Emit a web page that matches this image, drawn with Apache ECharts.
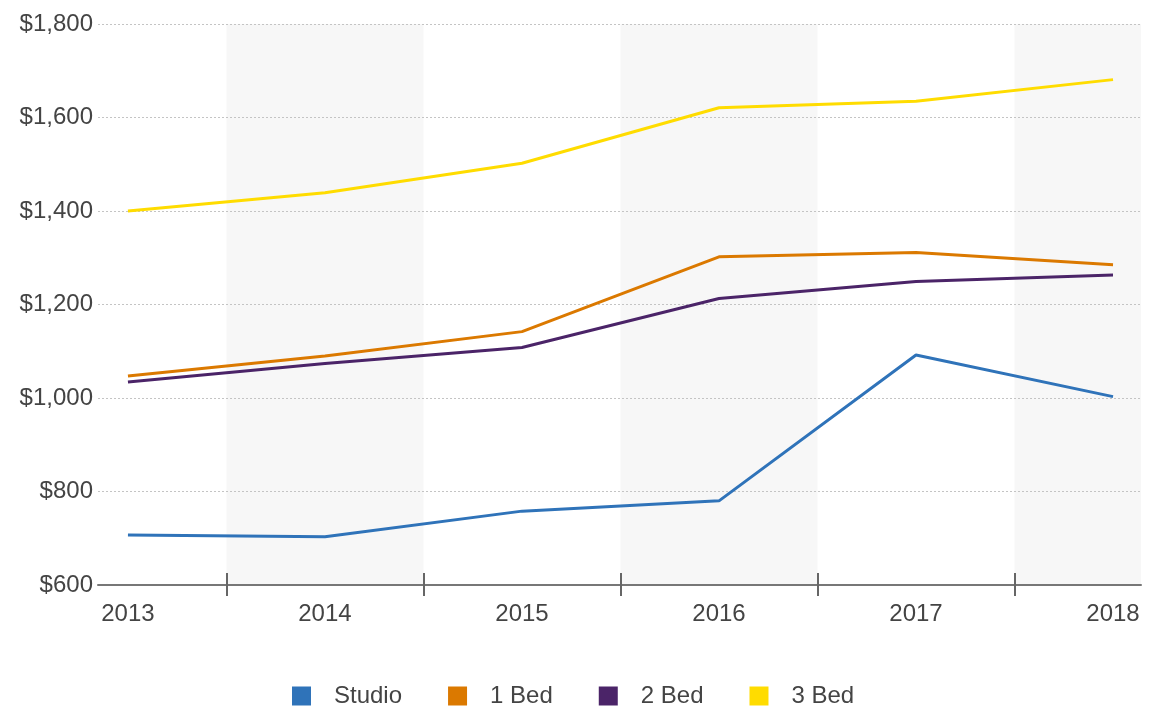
<!DOCTYPE html>
<html>
<head>
<meta charset="utf-8">
<title>Rent by unit size</title>
<style>
  html, body { margin: 0; padding: 0; background: #fff; }
  .line { width: 1167px; height: 711px; }
</style>
<script src="https://cdn.jsdelivr.net/npm/echarts@6/dist/echarts.min.js"></script>
</head>
<body>
<div class="line"></div>
<script>
// 数据
var years = [2013, 2014, 2015, 2016, 2017, 2018];
var studio = [707, 703, 758, 780, 1092, 1003];
var oneBed = [1047, 1090, 1142, 1302, 1311, 1285];
var twoBed = [1034, 1074, 1108, 1213, 1249, 1263];
var threeBed = [1400, 1439, 1502, 1621, 1635, 1681];
var names = ['Studio', '1 Bed', '2 Bed', '3 Bed'];
var yTicks = [600, 800, 1000, 1200, 1400, 1600, 1800];

(function () {
    var font = 'Arial, "Liberation Sans", sans-serif';
    // x轴两端留白 (左右各约0.15年)
    var xMin = 2012.848;
    var xMax = 2018.142;
    // 年份之间的刻度
    var mids = [];
    for (var i = 0; i < years.length - 1; i++) {
        mids.push(years[i] + 0.5);
    }
    var bands = [xMin].concat(mids, [xMax]);

    function pairs(arr) {
        return arr.map(function (v, i) { return [years[i], v]; });
    }

    function line(name, arr, color) {
        return {
            name: name,
            type: 'line',
            data: pairs(arr),
            showSymbol: false,
            symbol: 'none',
            lineStyle: { width: 3, color: color },
            itemStyle: { color: color },
            emphasis: { disabled: true }
        };
    }

    var option = {
        animation: false,
        textStyle: { fontFamily: font },
        grid: {
            left: 98,
            right: 26,
            top: 24,
            bottom: 126,
            containLabel: false,
            outerBoundsMode: 'none'
        },
        legend: {
            data: names,
            left: 287,
            top: 679,
            icon: 'rect',
            itemWidth: 19,
            itemHeight: 19,
            itemGap: 46,
            textStyle: {
                fontSize: 24,
                color: '#444',
                fontFamily: font,
                padding: [0, 0, 0, 18]
            }
        },
        xAxis: [
            {
                // 主轴：年份标签 + 向下刻度
                type: 'value',
                min: xMin,
                max: xMax,
                position: 'bottom',
                z: 1,
                axisLine: { show: true, lineStyle: { color: '#777', width: 2 } },
                axisTick: {
                    show: true,
                    customValues: mids,
                    length: 11,
                    lineStyle: { color: '#666', width: 2 }
                },
                axisLabel: {
                    customValues: years,
                    formatter: function (v) { return String(Math.round(v)); },
                    fontSize: 24,
                    color: '#444',
                    fontFamily: font,
                    margin: 17
                },
                splitLine: { show: false }
            },
            {
                // 背景条纹，放在最底层
                type: 'value',
                min: xMin,
                max: xMax,
                position: 'bottom',
                z: -1,
                axisLine: { show: false },
                axisTick: { show: false, customValues: bands },
                axisLabel: { show: false },
                splitLine: { show: false },
                splitArea: {
                    show: true,
                    areaStyle: { color: ['rgba(255,255,255,0)', '#f7f7f7'] }
                }
            },
            {
                // 向上刻度
                type: 'value',
                min: xMin,
                max: xMax,
                position: 'bottom',
                z: 1,
                axisLine: { show: false },
                axisTick: {
                    show: true,
                    inside: true,
                    customValues: mids,
                    length: 12,
                    lineStyle: { color: '#666', width: 2 }
                },
                axisLabel: { show: false },
                splitLine: { show: false }
            }
        ],
        yAxis: {
            type: 'value',
            min: yTicks[0],
            max: yTicks[yTicks.length - 1],
            interval: 200,
            axisLine: { show: false },
            axisTick: { show: false },
            axisLabel: {
                fontSize: 24,
                color: '#444',
                fontFamily: font,
                margin: 5,
                formatter: function (v) {
                    return '$' + v.toLocaleString('en-US');
                }
            },
            splitLine: {
                lineStyle: { color: '#c4c4c4', width: 1, type: [2, 2] }
            }
        },
        series: [
            line(names[0], studio, '#2f73b9'),
            line(names[1], oneBed, '#db7900'),
            line(names[2], twoBed, '#4b2468'),
            line(names[3], threeBed, '#ffdc00')
        ]
    };

    var myChart = echarts.init(document.querySelector('.line'));
    myChart.setOption(option);
})();
</script>
</body>
</html>
